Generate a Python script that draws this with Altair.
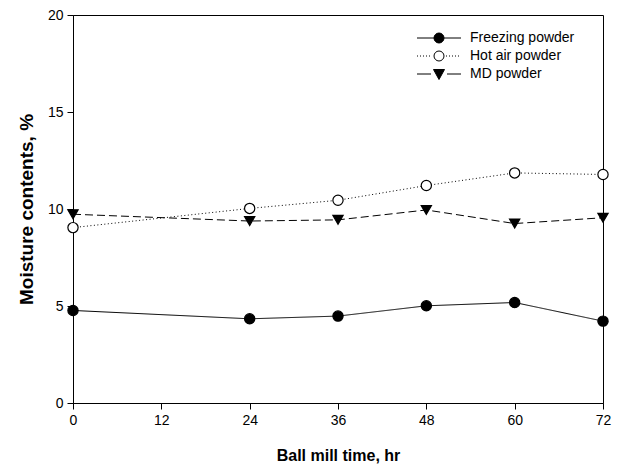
import altair as alt
import pandas as pd

# ---- data ----
hours = [0, 24, 36, 48, 60, 72]
freezing = [4.77, 4.34, 4.48, 5.01, 5.18, 4.22]
hot_air = [9.04, 10.03, 10.45, 11.21, 11.86, 11.78]
md = [9.73, 9.38, 9.44, 9.95, 9.25, 9.55]
series_names = ["Freezing powder", "Hot air powder", "MD powder"]
x_ticks = [0, 12, 24, 36, 48, 60, 72]
y_ticks = [0, 5, 10, 15, 20]

rows = []
for name, vals in zip(series_names, [freezing, hot_air, md]):
    for h, v in zip(hours, vals):
        rows.append({"hour": h, "moisture": v, "series": name})
df = pd.DataFrame(rows)

FONT = "Liberation Sans"

# ---- legend symbol glyphs (line + marker), in unit symbol coordinates ----
CIRCLE = "M-1,0A1,1 0 1,0 1,0A1,1 0 1,0 -1,0Z"
TRI = "M-1.1,-0.9L1.1,-0.9L0,1.1Z"


def segs(start, stop, length, period):
    out = []
    x = start
    while x + length <= stop + 1e-9:
        out.append(f"M{x:.2f},0h{length:.2f}")
        x += period
    return "".join(out)


PATH_F = "M-4.4,0H-1M1,0H4.4" + CIRCLE
PATH_H = segs(-4.4, -1.3, 0.2, 0.6) + segs(1.4, 4.4, 0.2, 0.6) + CIRCLE
PATH_M = "M-4.4,0H-1.6M1.6,0H4.4" + TRI

symbol_expr = (
    f"datum.value === '{series_names[0]}' ? '{PATH_F}' : "
    f"(datum.value === '{series_names[1]}' ? '{PATH_H}' : '{PATH_M}')"
)

x_enc = alt.X(
    "hour:Q",
    scale=alt.Scale(domain=[0, 72], nice=False, zero=False),
    axis=alt.Axis(values=x_ticks, title="Ball mill time, hr"),
)
y_enc = alt.Y(
    "moisture:Q",
    scale=alt.Scale(domain=[0, 20], nice=False),
    axis=alt.Axis(values=y_ticks, title="Moisture contents, %"),
)

lines = alt.Chart(df).mark_line(color="black", strokeWidth=1).encode(
    x=x_enc,
    y=y_enc,
    strokeDash=alt.StrokeDash(
        "series:N",
        scale=alt.Scale(range=[[1, 0], [1, 2.5], [8, 4]]),
        legend=None,
    ),
    detail="series:N",
)

points = alt.Chart(df).mark_point(
    size=105, stroke="black", strokeWidth=1.2, opacity=1, filled=True
).encode(
    x=x_enc,
    y=y_enc,
    shape=alt.Shape(
        "series:N",
        scale=alt.Scale(range=["circle", "circle", "triangle-down"]),
        legend=None,
    ),
    fill=alt.Fill(
        "series:N",
        scale=alt.Scale(domain=series_names, range=["black", "white", "black"]),
        legend=alt.Legend(
            title=None,
            orient="none",
            legendX=342,
            legendY=16,
            padding=0,
            symbolType=alt.ExprRef(symbol_expr),
            symbolSize=100,
            symbolOffset=17,
            symbolStrokeColor="black",
            symbolStrokeWidth=1,
            symbolOpacity=1,
            labelOffset=24,
            rowPadding=4,
            labelFont=FONT,
            labelFontSize=14,
            labelColor="black",
        ),
    ),
)

chart = (
    alt.layer(lines, points)
    .properties(
        width=530,
        height=388,
        autosize=alt.AutoSizeParams(type="none"),
        padding={"left": 65, "top": 7, "right": 11, "bottom": 64},
    )
    .configure_view(stroke="black", strokeWidth=1)
    .configure_axis(
        grid=False,
        domainColor="black",
        domainWidth=1,
        tickColor="black",
        tickSize=6,
        tickWidth=1,
        labelFont=FONT,
        labelFontSize=14,
        labelColor="black",
        labelPadding=4,
        titleFont=FONT,
        titleFontWeight="bold",
        titleColor="black",
    )
    .configure_axisX(titleFontSize=16, titlePadding=20, labelFlush=False)
    .configure_axisY(titleFontSize=19, titlePadding=11)
)

chart.save("out.html", embed_options={"renderer": "svg", "actions": False})
